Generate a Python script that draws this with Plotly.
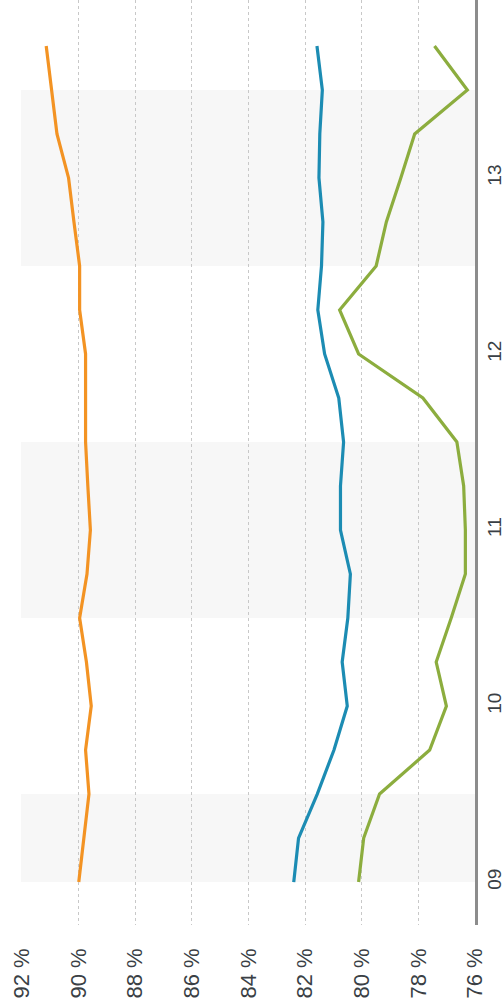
import plotly.graph_objects as go

# quarterly observations, 2009 Q1 .. 2013 Q4
years = [2009] * 4 + [2010] * 4 + [2011] * 4 + [2012] * 4 + [2013] * 4
quarters = [1, 2, 3, 4] * 5

orange_vals = [89.99, 89.80, 89.63, 89.75, 89.55, 89.72, 89.96, 89.70, 89.58, 89.67,
               89.75, 89.75, 89.75, 89.96, 89.96, 90.16, 90.35, 90.76, 90.96, 91.14]
blue_vals = [82.40, 82.23, 81.57, 80.98, 80.51, 80.69, 80.49, 80.40, 80.75, 80.75,
             80.64, 80.81, 81.31, 81.55, 81.42, 81.37, 81.51, 81.48, 81.39, 81.58]
green_vals = [80.11, 79.93, 79.37, 77.60, 77.01, 77.37, 76.84, 76.34, 76.34, 76.40,
              76.64, 77.84, 80.11, 80.78, 79.49, 79.13, 78.62, 78.13, 76.27, 77.43]

year_ticks = [2009, 2010, 2011, 2012, 2013]
year_labels = ["09", "10", "11", "12", "13"]
pct_ticks = [92, 90, 88, 86, 84, 82, 80, 78, 76]
pct_labels = [f"{v} %" for v in pct_ticks]

t = [y + (q - 1) / 4 for y, q in zip(years, quarters)]

fig = go.Figure()
for vals, col in [(orange_vals, "#F39323"), (blue_vals, "#1C8CB3"), (green_vals, "#8CAD3E")]:
    fig.add_trace(go.Scatter(x=vals, y=t, mode="lines",
                             line=dict(color=col, width=3.2), showlegend=False,
                             hoverinfo="skip"))

# alternating year bands (clipped to the data start)
for y0, y1 in [(2009, 2009.5), (2010.5, 2011.5), (2012.5, 2013.5)]:
    fig.add_shape(type="rect", xref="paper", yref="y", x0=0, x1=1, y0=y0, y1=y1,
                  fillcolor="#F7F7F7", line_width=0, layer="below")

fig.update_layout(
    width=504, height=1000,
    margin=dict(l=21, r=29, t=0, b=75),
    paper_bgcolor="white", plot_bgcolor="white",
    font=dict(family="Liberation Sans, Arial, sans-serif", color="#3A3F45"),
)
fig.update_xaxes(
    range=[92.03, 76], tickvals=pct_ticks, ticktext=pct_labels, tickangle=-90,
    tickfont=dict(size=22), ticklabelstandoff=18, automargin=False,
    showgrid=True, gridcolor="#C8C8C8", griddash="dot", gridwidth=1,
    showline=False, zeroline=False, ticks="",
)
fig.update_yaxes(
    range=[2008.756, 2014.011], side="right", tickvals=year_ticks, ticktext=year_labels,
    tickangle=-90, tickfont=dict(size=19), ticklabelstandoff=0, automargin=False,
    showgrid=False, zeroline=False, ticks="",
    showline=True, linecolor="#8C8C8C", linewidth=3,
)

fig.write_html("out.html", config={"displayModeBar": False},
               post_script="document.body.style.margin='0';")
